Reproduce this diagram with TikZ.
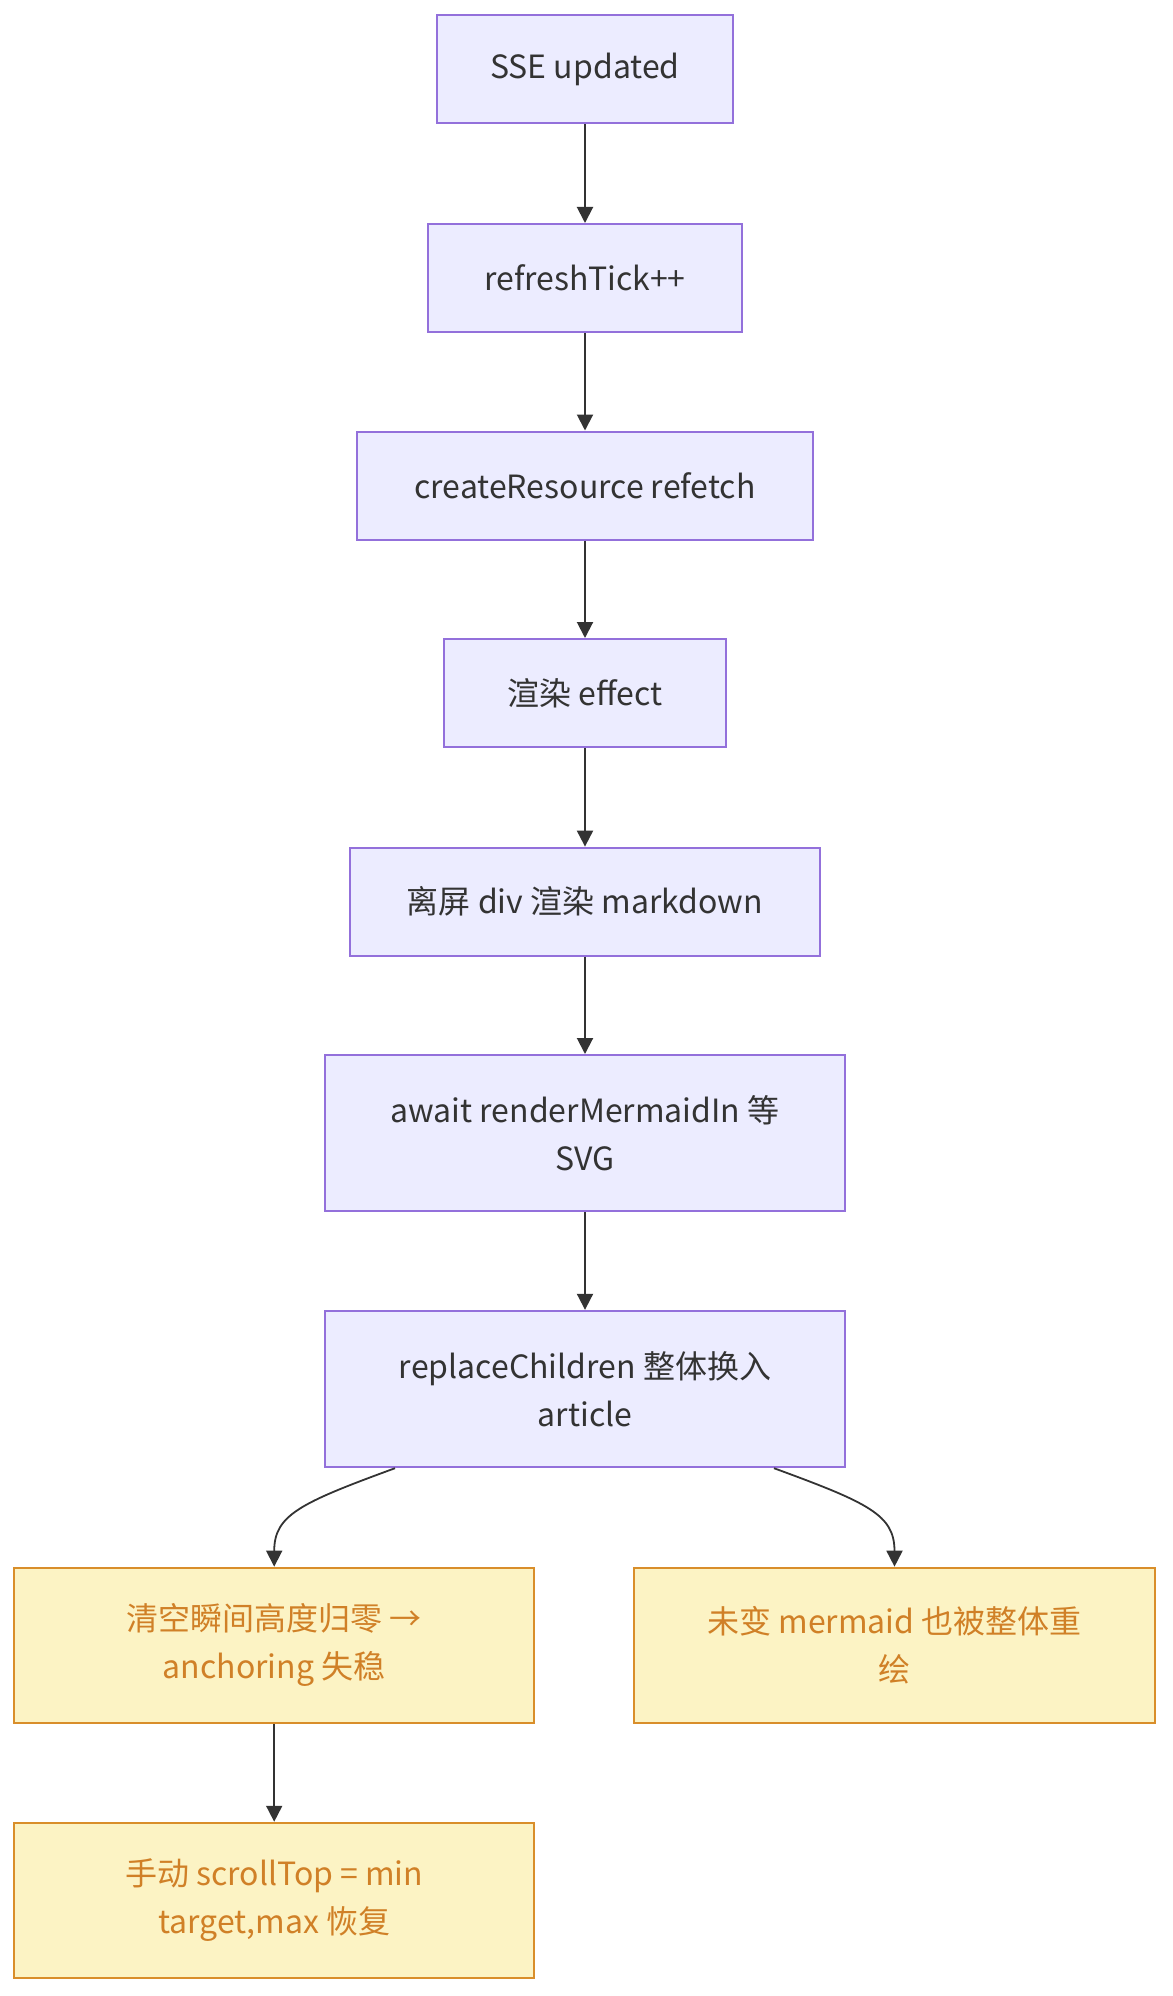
\documentclass[tikz,border=0pt]{standalone}
\usepackage{fontspec}
\setmainfont{Noto Sans CJK SC}
\usetikzlibrary{arrows.meta}
\definecolor{bfill}{HTML}{ECECFF}
\definecolor{bstroke}{HTML}{9370DB}
\definecolor{ink}{HTML}{333333}
\definecolor{yfill}{HTML}{FCF3C4}
\definecolor{ystroke}{HTML}{D98E2A}
\definecolor{ytext}{HTML}{D08027}
\tikzset{
  x=1pt, y=-1pt,
  bluebox/.style={draw=bstroke, fill=bfill, line width=2pt, rectangle, inner sep=0pt,
    text=ink, align=center, font=\fontsize{32}{48}\selectfont},
  yelbox/.style={draw=ystroke, fill=yfill, line width=2pt, rectangle, inner sep=0pt,
    text=ytext, align=center, font=\fontsize{32}{48}\selectfont,
    minimum width=520.5pt, minimum height=155.5pt},
  conn/.style={draw=ink, line width=2pt, -{Triangle[length=16pt,width=16pt]}},
  cconn/.style={draw=ink, line width=1.8pt, -{Triangle[length=16pt,width=16pt]}}
}
\begin{document}
\begin{tikzpicture}
\useasboundingbox[fill=white] (0,0) rectangle (1172,1996);
\node[bluebox, minimum width=296.5pt, minimum height=108pt] (b1) at (585,69.4) {SSE updated};
\node[bluebox, minimum width=314.3pt, minimum height=108pt] (b2) at (585,278) {refreshTick++};
\node[bluebox, minimum width=456.8pt, minimum height=108pt] (b3) at (585,485.5) {createResource refetch};
\node[bluebox, minimum width=281.3pt, minimum height=108pt] (b4) at (585,693) {渲染 effect};
\node[bluebox, minimum width=469.5pt, minimum height=108pt] (b5) at (585,901.6) {离屏 div 渲染 markdown};
\node[bluebox, minimum width=520.5pt, minimum height=156.4pt] (b6) at (585,1133.2) {await renderMermaidIn 等\\SVG};
\node[bluebox, minimum width=520.5pt, minimum height=156.4pt] (b7) at (585,1389) {replaceChildren 整体换入\\article};
\node[yelbox] (b8) at (274.2,1645.4) {清空瞬间高度归零 →\\anchoring 失稳};
\node[yelbox] (b9) at (894.5,1645.4) {未变 mermaid 也被整体重\\绘};
\node[yelbox] (b10) at (274.2,1900.5) {手动 scrollTop = min\\target,max 恢复};
\draw[conn] (b1.south) -- (b2.north);
\draw[conn] (b2.south) -- (b3.north);
\draw[conn] (b3.south) -- (b4.north);
\draw[conn] (b4.south) -- (b5.north);
\draw[conn] (b5.south) -- (b6.north);
\draw[conn] (b6.south) -- (b7.north);
\coordinate (s1) at ([xshift=-190pt]b7.south);
\coordinate (s2) at ([xshift=189pt]b7.south);
\draw[cconn] (s1) .. controls (300,1503) and (274.2,1515) .. (b8.north);
\draw[cconn] (s2) .. controls (869,1503) and (894.5,1515) .. (b9.north);
\draw[cconn] (b8.south) -- (b10.north);
\end{tikzpicture}
\end{document}
